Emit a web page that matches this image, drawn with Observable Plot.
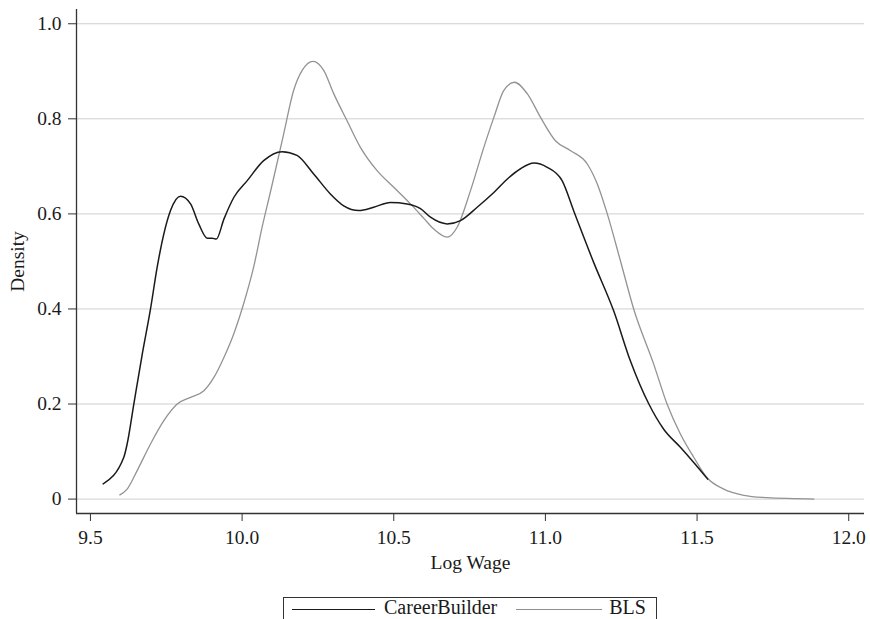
<!DOCTYPE html>
<html>
<head>
<meta charset="utf-8">
<script src="https://cdn.jsdelivr.net/npm/d3@7"></script>
<script src="https://cdn.jsdelivr.net/npm/@observablehq/plot@0.6"></script>
<style>
  html, body { margin: 0; padding: 0; background: #fff; }
  #wrap { position: relative; width: 870px; height: 619px; overflow: hidden; font-family: "Liberation Serif", "DejaVu Serif", serif; }
  #legend { position: absolute; left: 283px; top: 597px; width: 374px; height: 22px; box-sizing: border-box;
    border: 1px solid #333; border-bottom: none; display: flex; align-items: flex-start; padding: 0 8px; font-size: 20px; color: #1a1a1a; }
  #legend .sw { display: inline-block; height: 0; margin-top: 11px; }
  #legend .t { line-height: 16px; margin-top: 1px; }
</style>
</head>
<body>
<div id="wrap">
  <div id="chart"></div>
  <div id="legend">
    <span class="sw" style="width:83px;border-top:1.5px solid #1a1a1a;"></span>
    <span class="t" style="margin-left:9px;">CareerBuilder</span>
    <span class="sw" style="width:86px;border-top:1.3px solid #909090;margin-left:19px;"></span>
    <span class="t" style="margin-left:7px;">BLS</span>
  </div>
</div>
<script>
// CareerBuilder density (log wage, density)
const cbX = [9.542, 9.610, 9.621, 9.643, 9.670, 9.698, 9.720, 9.742, 9.764, 9.797, 9.830, 9.857, 9.885, 9.901, 9.915, 9.940, 9.973, 10.017, 10.071, 10.132, 10.181, 10.236, 10.291, 10.335, 10.385, 10.434, 10.489, 10.544, 10.588, 10.621, 10.676, 10.720, 10.775, 10.830, 10.879, 10.918, 10.962, 11.006, 11.055, 11.094, 11.159, 11.225, 11.280, 11.341, 11.390, 11.445, 11.489, 11.535];
const cbY = [0.032, 0.088, 0.116, 0.200, 0.302, 0.400, 0.488, 0.558, 0.607, 0.637, 0.621, 0.579, 0.549, 0.549, 0.547, 0.589, 0.635, 0.670, 0.712, 0.731, 0.723, 0.684, 0.642, 0.617, 0.607, 0.614, 0.624, 0.621, 0.611, 0.593, 0.579, 0.586, 0.614, 0.645, 0.676, 0.695, 0.707, 0.698, 0.670, 0.605, 0.498, 0.396, 0.291, 0.200, 0.147, 0.109, 0.077, 0.042];

// BLS density
const blsX = [9.597, 9.621, 9.654, 9.698, 9.742, 9.786, 9.830, 9.874, 9.907, 9.940, 9.972, 10.005, 10.038, 10.066, 10.093, 10.137, 10.170, 10.198, 10.234, 10.269, 10.302, 10.346, 10.390, 10.445, 10.500, 10.555, 10.600, 10.632, 10.676, 10.709, 10.753, 10.797, 10.830, 10.863, 10.898, 10.940, 10.984, 11.033, 11.083, 11.138, 11.171, 11.204, 11.247, 11.291, 11.357, 11.401, 11.445, 11.489, 11.533, 11.588, 11.654, 11.731, 11.819, 11.885];
const blsY = [0.009, 0.021, 0.060, 0.116, 0.165, 0.200, 0.214, 0.228, 0.256, 0.298, 0.347, 0.411, 0.488, 0.572, 0.645, 0.768, 0.860, 0.902, 0.921, 0.902, 0.853, 0.796, 0.740, 0.691, 0.656, 0.621, 0.590, 0.568, 0.551, 0.572, 0.649, 0.740, 0.803, 0.860, 0.877, 0.853, 0.803, 0.754, 0.733, 0.705, 0.663, 0.600, 0.502, 0.400, 0.284, 0.200, 0.137, 0.088, 0.045, 0.021, 0.008, 0.003, 0.001, 0.000];

const xTicks = [9.5, 10.0, 10.5, 11.0, 11.5, 12.0];
const yTicks = [0, 0.2, 0.4, 0.6, 0.8, 1.0];
const xDomain = [9.454, 12.052];
const yDomain = [-0.0303, 1.03];

const cb = cbX.map((x, i) => ({x, y: cbY[i]}));
const bls = blsX.map((x, i) => ({x, y: blsY[i]}));

const chart = Plot.plot({
  width: 870,
  height: 590,
  marginLeft: 76,
  marginRight: 6,
  marginTop: 9,
  marginBottom: 77,
  style: { fontFamily: "'Liberation Serif', 'DejaVu Serif', serif", fontSize: "19.5px", color: "#1a1a1a", background: "#fff" },
  x: { domain: xDomain },
  y: { domain: yDomain },
  marks: [
    Plot.gridY(yTicks, { stroke: "#cfcfcf", strokeOpacity: 1, strokeWidth: 1 }),
    Plot.axisX(xTicks, { tickSize: 8, tickPadding: 9, tickFormat: d => d.toFixed(1), label: "Log Wage", labelAnchor: "center", labelArrow: "none", labelOffset: 55, fontSize: 19.5, stroke: "#333" }),
    Plot.axisY(yTicks, { tickSize: 8, tickPadding: 7, tickFormat: d => d === 0 ? "0" : d.toFixed(1), label: "Density", labelAnchor: "center", labelArrow: "none", labelOffset: 66, fontSize: 19.5, stroke: "#333" }),
    Plot.ruleX([xDomain[0]], { stroke: "#333", strokeWidth: 1.3 }),
    Plot.ruleY([yDomain[0]], { stroke: "#333", strokeWidth: 1.3 }),
    Plot.line(bls, { x: "x", y: "y", stroke: "#939393", strokeWidth: 1.3, curve: "monotone-x" }),
    Plot.line(cb, { x: "x", y: "y", stroke: "#1a1a1a", strokeWidth: 1.5, curve: "monotone-x" })
  ]
});
document.getElementById("chart").appendChild(chart);
</script>
</body>
</html>
